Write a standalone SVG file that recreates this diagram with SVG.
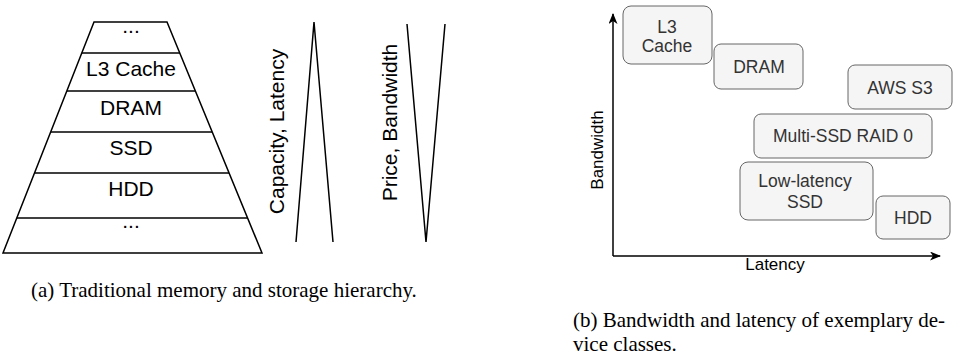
<svg xmlns="http://www.w3.org/2000/svg" width="957" height="360" viewBox="0 0 957 360">
<style>
.ln{fill:none;stroke:#000;stroke-width:1.5}
.t{font-family:"Liberation Sans",Arial,sans-serif;font-size:21px;fill:#000;text-anchor:middle}
.bx{fill:#f5f5f5;stroke:#666;stroke-width:1}
.bt{font-family:"Liberation Sans",Arial,sans-serif;font-size:17.5px;fill:#333;text-anchor:middle}
.ax{font-family:"Liberation Sans",Arial,sans-serif;font-size:17px;fill:#000;text-anchor:middle}
.cap{font-family:"Liberation Serif","Times New Roman",serif;font-size:21px;fill:#000}
.axl{fill:none;stroke:#000;stroke-width:1.5}
</style>
<defs>
<marker id="ar" markerUnits="userSpaceOnUse" markerWidth="12" markerHeight="10" refX="10" refY="4.5" orient="auto">
<path d="M0,0 L11,4.5 L0,9 L3,4.5 Z" fill="#000"/>
</marker>
</defs>
<g id="hierarchy">
<path class="ln" d="M94,22 L167,22 L262,253 L3,253 Z"/>
<line class="ln" x1="82" y1="53" x2="180" y2="53"/>
<line class="ln" x1="67" y1="91" x2="195" y2="91"/>
<line class="ln" x1="51" y1="132" x2="212" y2="132"/>
<line class="ln" x1="35" y1="173" x2="229" y2="173"/>
<line class="ln" x1="17" y1="218" x2="247" y2="218"/>
<text class="t" x="131" y="33">...</text>
<text class="t" x="131" y="76">L3 Cache</text>
<text class="t" x="131" y="115">DRAM</text>
<text class="t" x="131" y="155">SSD</text>
<text class="t" x="131" y="196">HDD</text>
<text class="t" x="131" y="228">...</text>
</g>
<g id="capacity-latency">
<text class="t" transform="translate(284,131.5) rotate(-90)">Capacity, Latency</text>
<path class="ln" d="M296,242 L314,22 L333,242"/>
</g>
<g id="price-bandwidth">
<text class="t" transform="translate(397,122.5) rotate(-90)">Price, Bandwidth</text>
<path class="ln" d="M407,24 L426,242 L445,24"/>
</g>
<g id="connectors">
<line class="axl" x1="613" y1="256" x2="613" y2="14" marker-end="url(#ar)"/>
<line class="axl" x1="613" y1="256" x2="940" y2="256" marker-end="url(#ar)"/>
</g>
<g id="axis-labels">
<text class="ax" transform="translate(603,150) rotate(-90)">Bandwidth</text>
<text class="ax" x="775" y="270">Latency</text>
</g>
<g id="l3cache">
<rect class="bx" x="623" y="6" width="89" height="58" rx="8"/>
<text class="bt" x="667" y="33">L3</text>
<text class="bt" x="667" y="52">Cache</text>
</g>
<g id="dram">
<rect class="bx" x="714" y="44" width="89" height="45" rx="7"/>
<text class="bt" x="759" y="73">DRAM</text>
</g>
<g id="awss3">
<rect class="bx" x="848" y="65" width="104" height="44" rx="7"/>
<text class="bt" x="900" y="94">AWS S3</text>
</g>
<g id="raid0">
<rect class="bx" x="754" y="114" width="178" height="44" rx="7"/>
<text class="bt" x="843" y="142">Multi-SSD RAID 0</text>
</g>
<g id="lowlatssd">
<rect class="bx" x="740" y="162" width="133" height="58" rx="8"/>
<text class="bt" x="805" y="187">Low-latency</text>
<text class="bt" x="805" y="208">SSD</text>
</g>
<g id="hdd">
<rect class="bx" x="876" y="196" width="74" height="43" rx="7"/>
<text class="bt" x="913" y="224">HDD</text>
</g>
<g id="captions">
<text class="cap" x="31" y="297">(a) Traditional memory and storage hierarchy.</text>
<text class="cap" x="573" y="327">(b) Bandwidth and latency of exemplary de-</text>
<text class="cap" x="573" y="351">vice classes.</text>
</g>
</svg>
